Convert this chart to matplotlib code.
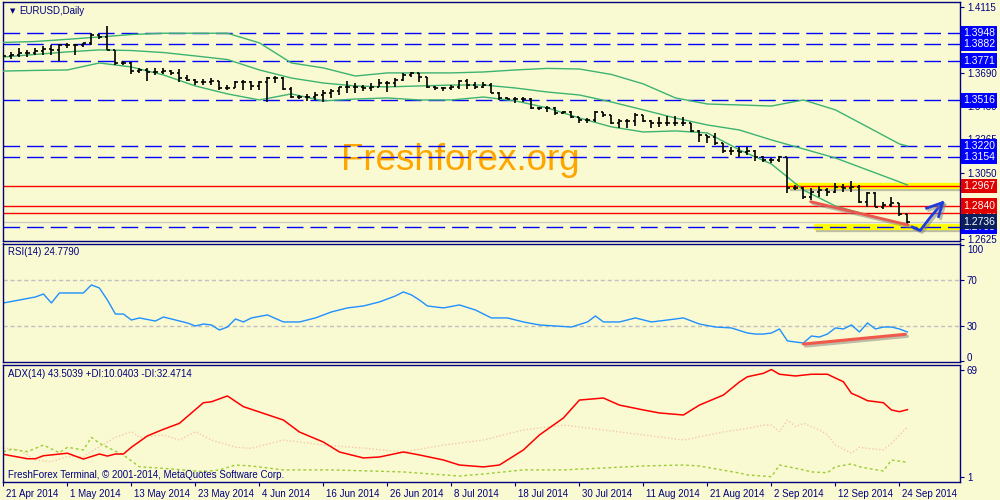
import numpy as np
import matplotlib
matplotlib.use('Agg')
import matplotlib.pyplot as plt
import matplotlib.patheffects as pe
from matplotlib.transforms import ScaledTranslation

# ---- data (EURUSD daily, 21 Apr - 25 Sep 2014) ----
opens = [1.3795, 1.3802, 1.3808, 1.3819, 1.3823, 1.3836, 1.3845, 1.3841, 1.3873, 1.3873,
         1.3870, 1.3883, 1.3937, 1.3926, 1.3841, 1.3759, 1.3759, 1.3708, 1.3712, 1.3701,
         1.3701, 1.3708, 1.3695, 1.3658, 1.3648, 1.3637, 1.3637, 1.3643, 1.3594, 1.3594,
         1.3637, 1.3633, 1.3609, 1.3637, 1.3658, 1.3658, 1.3588, 1.3541, 1.3536, 1.3541,
         1.3551, 1.3566, 1.3579, 1.3601, 1.3605, 1.3605, 1.3599, 1.3605, 1.3631, 1.3626,
         1.3648, 1.3680, 1.3691, 1.3665, 1.3605, 1.3599, 1.3594, 1.3605, 1.3644, 1.3616,
         1.3605, 1.3616, 1.3566, 1.3530, 1.3528, 1.3524, 1.3524, 1.3466, 1.3466, 1.3466,
         1.3434, 1.3444, 1.3408, 1.3391, 1.3391, 1.3444, 1.3423, 1.3369, 1.3386, 1.3386,
         1.3423, 1.3386, 1.3369, 1.3369, 1.3369, 1.3369, 1.3369, 1.3319, 1.3294, 1.3283,
         1.3240, 1.3191, 1.3193, 1.3187, 1.3193, 1.3154, 1.3133, 1.3133, 1.3154, 1.2951,
         1.2951, 1.2897, 1.2929, 1.2940, 1.2929, 1.2962, 1.2951, 1.2962, 1.2865, 1.2919,
         1.2833, 1.2844, 1.2854, 1.2786]
highs = [1.3830, 1.3830, 1.3851, 1.3841, 1.3851, 1.3866, 1.3873, 1.3877, 1.3883, 1.3877,
         1.3888, 1.3948, 1.3941, 1.3995, 1.3841, 1.3772, 1.3766, 1.3723, 1.3727, 1.3723,
         1.3727, 1.3712, 1.3718, 1.3680, 1.3654, 1.3652, 1.3658, 1.3643, 1.3616, 1.3643,
         1.3648, 1.3641, 1.3641, 1.3669, 1.3673, 1.3669, 1.3601, 1.3551, 1.3558, 1.3573,
         1.3584, 1.3588, 1.3605, 1.3644, 1.3626, 1.3616, 1.3626, 1.3652, 1.3644, 1.3659,
         1.3691, 1.3701, 1.3695, 1.3665, 1.3609, 1.3605, 1.3616, 1.3648, 1.3652, 1.3637,
         1.3637, 1.3626, 1.3573, 1.3541, 1.3536, 1.3536, 1.3530, 1.3476, 1.3481, 1.3476,
         1.3451, 1.3451, 1.3408, 1.3401, 1.3451, 1.3444, 1.3423, 1.3395, 1.3395, 1.3434,
         1.3425, 1.3390, 1.3412, 1.3416, 1.3416, 1.3412, 1.3369, 1.3326, 1.3294, 1.3304,
         1.3240, 1.3214, 1.3219, 1.3219, 1.3197, 1.3156, 1.3144, 1.3159, 1.3154, 1.2972,
         1.2962, 1.2951, 1.2966, 1.2951, 1.2983, 1.2979, 1.3000, 1.2972, 1.2929, 1.2929,
         1.2865, 1.2897, 1.2854, 1.2786]
lows = [1.3781, 1.3781, 1.3793, 1.3793, 1.3808, 1.3808, 1.3808, 1.3770, 1.3851, 1.3808,
        1.3862, 1.3873, 1.3909, 1.3841, 1.3744, 1.3744, 1.3686, 1.3695, 1.3643, 1.3680,
        1.3686, 1.3680, 1.3637, 1.3641, 1.3616, 1.3616, 1.3616, 1.3583, 1.3583, 1.3594,
        1.3583, 1.3583, 1.3583, 1.3508, 1.3626, 1.3583, 1.3530, 1.3523, 1.3515, 1.3519,
        1.3509, 1.3530, 1.3551, 1.3562, 1.3562, 1.3579, 1.3579, 1.3605, 1.3573, 1.3605,
        1.3644, 1.3669, 1.3637, 1.3594, 1.3584, 1.3579, 1.3584, 1.3588, 1.3588, 1.3588,
        1.3594, 1.3562, 1.3519, 1.3524, 1.3502, 1.3509, 1.3459, 1.3455, 1.3444, 1.3423,
        1.3429, 1.3401, 1.3374, 1.3374, 1.3380, 1.3412, 1.3365, 1.3337, 1.3337, 1.3352,
        1.3379, 1.3337, 1.3343, 1.3352, 1.3352, 1.3352, 1.3315, 1.3251, 1.3240, 1.3229,
        1.3176, 1.3165, 1.3154, 1.3165, 1.3129, 1.3122, 1.3116, 1.3122, 1.2919, 1.2940,
        1.2880, 1.2876, 1.2893, 1.2902, 1.2923, 1.2929, 1.2929, 1.2854, 1.2833, 1.2829,
        1.2816, 1.2833, 1.2773, 1.2715]
closes = [1.3802, 1.3808, 1.3819, 1.3823, 1.3836, 1.3845, 1.3841, 1.3873, 1.3873, 1.3870,
          1.3883, 1.3937, 1.3926, 1.3841, 1.3759, 1.3759, 1.3708, 1.3712, 1.3701, 1.3701,
          1.3708, 1.3695, 1.3658, 1.3648, 1.3637, 1.3637, 1.3643, 1.3594, 1.3594, 1.3637,
          1.3633, 1.3609, 1.3637, 1.3658, 1.3658, 1.3588, 1.3541, 1.3536, 1.3541, 1.3551,
          1.3566, 1.3579, 1.3601, 1.3605, 1.3605, 1.3599, 1.3605, 1.3631, 1.3626, 1.3648,
          1.3680, 1.3691, 1.3665, 1.3605, 1.3599, 1.3594, 1.3605, 1.3644, 1.3616, 1.3605,
          1.3616, 1.3566, 1.3530, 1.3528, 1.3524, 1.3524, 1.3466, 1.3466, 1.3466, 1.3434,
          1.3444, 1.3408, 1.3391, 1.3391, 1.3444, 1.3423, 1.3369, 1.3386, 1.3386, 1.3423,
          1.3386, 1.3369, 1.3369, 1.3369, 1.3369, 1.3369, 1.3319, 1.3294, 1.3283, 1.3240,
          1.3191, 1.3193, 1.3187, 1.3193, 1.3154, 1.3133, 1.3133, 1.3154, 1.2951, 1.2951,
          1.2897, 1.2929, 1.2940, 1.2929, 1.2962, 1.2951, 1.2962, 1.2865, 1.2919, 1.2833,
          1.2844, 1.2854, 1.2786, 1.2737]

# Bollinger bands (sampled)
bb_idx = [0, 4, 8, 12, 16, 20, 24, 28, 32, 36, 40, 44, 48, 52, 56, 60, 64, 68, 72, 76,
          80, 84, 88, 92, 96, 100, 104, 108, 112, 113]
bb_upper = [1.3889, 1.3895, 1.3909, 1.3924, 1.3940, 1.3948, 1.3948, 1.3948, 1.3886, 1.3757,
            1.3725, 1.3673, 1.3693, 1.3693, 1.3693, 1.3699, 1.3712, 1.3722, 1.3718, 1.3683,
            1.3622, 1.3532, 1.3493, 1.3487, 1.3480, 1.3519, 1.3455, 1.3346, 1.3236, 1.3223]
bb_mid = [1.3795, 1.3812, 1.3828, 1.3841, 1.3837, 1.3824, 1.3802, 1.3779, 1.3712, 1.3660,
          1.3628, 1.3609, 1.3603, 1.3609, 1.3615, 1.3615, 1.3596, 1.3570, 1.3551, 1.3506,
          1.3455, 1.3403, 1.3358, 1.3326, 1.3262, 1.3204, 1.3146, 1.3069, 1.2992, 1.2972]
bb_lower = [1.3705, 1.3709, 1.3712, 1.3757, 1.3731, 1.3680, 1.3609, 1.3558, 1.3519, 1.3558,
            1.3513, 1.3525, 1.3532, 1.3519, 1.3519, 1.3538, 1.3513, 1.3468, 1.3403, 1.3346,
            1.3313, 1.3320, 1.3307, 1.3198, 1.3107, 1.2940, 1.2837, 1.2780, 1.2728, 1.2715]

blue_levels = [1.3948, 1.3882, 1.3771, 1.3516, 1.3220, 1.3154, 1.2705]
red_levels = [1.2967, 1.2840, 1.2790]
last_price = 1.2736
price_ticks = [1.4115, 1.3903, 1.3690, 1.3480, 1.3265, 1.3050, 1.2840, 1.2625]
price_tick_labels = ['1.4115', '', '1.3690', '1.3480', '1.3265', '1.3050', '', '1.2625']
zone_start = [98, 101.3]
zone_price = [1.2967, 1.2705]
trend_x = [100.9, 113.1]
trend_y = [1.2865, 1.2715]
arrow_x = [113.6, 114.6, 115.9, 117.4]
arrow_y = [1.2702, 1.2680, 1.2767, 1.2859]
arrow_head_x = [115.4, 117.4, 116.9]
arrow_head_y = [1.2823, 1.2859, 1.2769]

# RSI(14)
rsi_idx = [0, 2, 4, 5, 6, 7, 9, 10, 11, 12, 13, 14, 15, 16, 17, 19, 20, 21, 23, 24,
           25, 26, 27, 28, 29, 30, 31, 33, 35, 37, 39, 41, 43, 45, 47, 49, 50, 51, 52, 53,
           55, 57, 59, 61, 63, 65, 67, 69, 71, 73, 74, 75, 77, 79, 81, 83, 85, 87, 89, 91,
           93, 94, 95, 96, 97, 98, 99, 100, 101, 102, 103, 104, 105, 106, 107, 108, 109, 110,
           111, 112, 113]
rsi_vals = [50.0, 52.6, 55.2, 57.8, 50.0, 58.7, 58.7, 58.7, 65.7, 63.0, 52.6, 40.4, 40.4,
            35.2, 37.0, 34.3, 37.8, 36.1, 32.6, 30.0, 31.7, 30.9, 26.5, 29.1, 36.1, 33.5,
            37.0, 39.6, 33.5, 33.5, 37.0, 42.2, 45.7, 47.4, 50.9, 56.1, 59.6, 57.0, 52.6,
            47.4, 45.7, 48.3, 43.9, 37.0, 37.0, 33.5, 30.9, 30.0, 29.1, 33.5, 38.7, 33.5,
            33.5, 37.0, 33.5, 35.2, 37.0, 31.7, 29.1, 28.3, 23.9, 23.0, 23.0, 23.9, 27.4,
            17.0, 16.1, 15.2, 21.3, 20.4, 23.0, 28.3, 27.4, 30.9, 24.8, 32.6, 27.4, 29.1,
            29.1, 27.4, 24.8]
rsi_trend_x = [100, 112.75]
rsi_trend_y = [14.3, 22.8]

# ADX(14), +DI, -DI
adx_idx = [0, 3, 4, 5, 8, 10, 12, 13, 14, 15, 16, 18, 20, 22, 25, 26, 28, 30, 32, 35,
           37, 40, 42, 45, 47, 50, 52, 55, 57, 60, 62, 65, 67, 70, 72, 75, 77, 80, 82, 85,
           87, 90, 92, 93, 95, 96, 97, 99, 101, 103, 105, 106, 107, 108, 110, 111, 112, 113]
adx_vals = [15.1, 12.3, 12.3, 14.2, 15.8, 12.1, 15.3, 14.0, 15.3, 15.3, 19.6, 26.8, 31.0,
            34.8, 47.9, 48.5, 52.2, 45.4, 42.0, 36.9, 29.3, 22.9, 16.6, 12.8, 13.4, 16.6,
            14.7, 11.5, 8.3, 7.1, 8.3, 17.9, 27.4, 38.2, 49.6, 50.9, 46.4, 43.3, 41.4, 40.1,
            46.4, 52.8, 61.1, 64.4, 66.6, 69.0, 66.0, 64.9, 66.0, 66.0, 61.2, 53.9, 51.7,
            49.2, 47.9, 43.3, 42.2, 43.5]
pdi_idx = [0, 1, 3, 5, 7, 8, 10, 11, 12, 13, 15, 17, 20, 25, 27, 29, 31, 35, 41, 50,
           57, 60, 65, 70, 75, 80, 85, 87, 92, 93, 96, 97, 100, 101, 103, 104, 106, 107,
           108, 110, 111, 113]
pdi_vals = [16.8, 18.3, 16.8, 21.0, 16.1, 19.6, 17.9, 25.9, 22.1, 19.6, 14.7, 7.2, 6.2,
            4.1, 5.2, 8.3, 7.7, 5.2, 5.2, 3.9, 1.3, 2.6, 5.2, 5.2, 6.4, 7.7, 8.3, 7.7, 3.2,
            2.0, 0.9, 8.3, 5.2, 3.9, 3.4, 7.2, 9.0, 7.2, 6.2, 4.5, 11.5, 10.0]
mdi_idx = [0, 2, 4, 6, 8, 10, 12, 14, 16, 17, 20, 22, 24, 26, 29, 31, 35, 40, 45, 50,
           55, 60, 65, 70, 75, 80, 85, 90, 93, 95, 96, 97, 98, 99, 100, 102, 103, 104,
           106, 107, 108, 110, 111, 113]
mdi_vals = [19.1, 17.9, 11.5, 10.4, 13.6, 13.6, 20.0, 25.9, 29.5, 25.9, 27.4, 24.2, 29.5,
            24.2, 19.6, 18.9, 24.2, 21.0, 19.1, 16.6, 21.0, 24.2, 30.6, 33.7, 30.6, 27.4,
            24.2, 29.3, 31.6, 33.7, 33.7, 29.5, 36.9, 32.7, 34.8, 30.6, 27.4, 21.0, 15.8,
            19.6, 18.9, 17.9, 22.1, 32.5]

date_labels = ['21 Apr 2014', '1 May 2014', '13 May 2014', '23 May 2014', '4 Jun 2014',
               '16 Jun 2014', '26 Jun 2014', '8 Jul 2014', '18 Jul 2014', '30 Jul 2014',
               '11 Aug 2014', '21 Aug 2014', '2 Sep 2014', '12 Sep 2014', '24 Sep 2014']

# ---- styling ----
BG = '#FAFAD2'
NAVY = '#000080'
FONT = 'Liberation Sans'
plt.rcParams['font.family'] = [FONT, 'DejaVu Sans']

fig = plt.figure(figsize=(10, 5), dpi=100, facecolor=BG)
ax1 = fig.add_axes([0.003, 0.518, 0.957, 0.478])
ax2 = fig.add_axes([0.003, 0.276, 0.957, 0.237])
ax3 = fig.add_axes([0.003, 0.0366, 0.957, 0.2344])

XMIN, XMAX = -0.05, 119.57
for ax in (ax1, ax2, ax3):
    ax.set_facecolor(BG)
    ax.set_xlim(XMIN, XMAX)
    for s in ax.spines.values():
        s.set_color(NAVY)
        s.set_linewidth(1.0)
    ax.yaxis.tick_right()
    ax.tick_params(axis='y', colors=NAVY, labelcolor=NAVY, direction='out',
                   length=3, width=0.8, labelsize=7, pad=2)
    ax.tick_params(axis='x', bottom=False, labelbottom=False)

idx = np.arange(len(closes))

# ---- price panel ----
ax1.set_ylim(1.2612, 1.4149)
ax1.set_yticks(price_ticks)
ax1.set_yticklabels(price_tick_labels)

for lv in blue_levels:
    ax1.axhline(lv, color='#0000FF', lw=1.0, dashes=(12, 5), zorder=2)
ax1.axhline(last_price, color='#C8C8C8', lw=0.9, zorder=2)

shadow = [pe.SimpleLineShadow(offset=(1.5, -1.5), shadow_color='#808080', alpha=0.5), pe.Normal()]
for x0, lv in zip(zone_start, zone_price):
    ax1.plot([x0, XMAX], [lv, lv], color='#FFFF00', lw=4.5, solid_capstyle='butt',
             zorder=1.5, path_effects=shadow)
for lv in red_levels:
    ax1.axhline(lv, color='#FF0000', lw=1.0, zorder=2.2)

ax1.plot(bb_idx, bb_upper, color='#3CB371', lw=1.0, zorder=3)
ax1.plot(bb_idx, bb_mid, color='#3CB371', lw=1.0, zorder=3)
ax1.plot(bb_idx, bb_lower, color='#3CB371', lw=1.0, zorder=3)

ax1.vlines(idx, lows, highs, color='black', lw=1.2, zorder=4)
ax1.hlines(opens, idx - 0.36, idx, color='black', lw=1.2, zorder=4)
ax1.hlines(closes, idx, idx + 0.36, color='black', lw=1.2, zorder=4)

ax1.plot(trend_x, trend_y, color='#E8584C', lw=2.0, solid_capstyle='round',
         zorder=5, path_effects=shadow)
ax1.plot(arrow_x, arrow_y, color='#1E3CDC', lw=2.0, solid_joinstyle='round',
         zorder=6, path_effects=shadow)
ax1.plot(arrow_head_x, arrow_head_y, color='#1E3CDC', lw=2.0, solid_joinstyle='round',
         zorder=6, path_effects=shadow)

ax1.text(0.478, 0.335, 'Freshforex.org', transform=ax1.transAxes, ha='center', va='center',
         color='#FFA500', fontsize=26.5, family=FONT, zorder=1)

# price boxes on the right axis
ytr = ax1.get_yaxis_transform()
def price_box(v, fc, z):
    ax1.text(1.003, v, '%.4f' % v, transform=ytr, ha='left', va='center', color='white',
             fontsize=7.5, clip_on=False, zorder=z,
             bbox=dict(boxstyle='square,pad=0.22', fc=fc, ec='none'))

price_box(1.2705, '#0000FF', 7)
price_box(1.2790, '#E00000', 7)
for lv in blue_levels[:-1]:
    price_box(lv, '#0000FF', 8)
price_box(1.2967, '#E00000', 8)
price_box(1.2840, '#E00000', 8)
price_box(last_price, '#0A1F5C', 9)

# ---- RSI panel ----
ax2.set_ylim(-1.3, 101.7)
ax2.set_yticks([100, 70, 30, 0])
ax2.set_yticklabels(['100', '70', '30', '0'])
for lv in (70, 30):
    ax2.axhline(lv, color='#C0C0C0', lw=1.0, dashes=(3, 2))
ax2.plot(rsi_idx, rsi_vals, color='#1E90FF', lw=1.0)
ax2.plot(rsi_trend_x, rsi_trend_y, color='#F05A4A', lw=2.2, solid_capstyle='round',
         path_effects=shadow)
# terminal draws the 100 / 0 captions just inside the window
rl = ax2.get_yticklabels()
rl[0].set_transform(rl[0].get_transform() + ScaledTranslation(0, -4 / 100, fig.dpi_scale_trans))
rl[3].set_transform(rl[3].get_transform() + ScaledTranslation(0, 4 / 100, fig.dpi_scale_trans))

# ---- ADX panel ----
ax3.set_ylim(-2.3, 72.2)
ax3.set_yticks([69, 1])
ax3.set_yticklabels(['69', '1'])
ax3.plot(mdi_idx, mdi_vals, color='#F5C9A6', lw=1.0, dashes=(1, 1.5))
ax3.plot(pdi_idx, pdi_vals, color='#9ACD32', lw=1.0, dashes=(2, 2))
ax3.plot(adx_idx, adx_vals, color='#FF0000', lw=1.1)

ax3.tick_params(axis='x', bottom=True, labelbottom=True, colors=NAVY, labelcolor=NAVY,
                direction='out', length=3, width=0.8, labelsize=7, pad=2)
ax3.set_xticks(np.arange(0, 8 * len(date_labels), 8))
ax3.set_xticklabels(date_labels)
off = ScaledTranslation(3 / 100, 0, fig.dpi_scale_trans)
for lbl in ax3.get_xticklabels():
    lbl.set_horizontalalignment('left')
    lbl.set_transform(lbl.get_transform() + off)

# ---- captions ----
fig.text(0.010, 1 - 11 / 500, '\u25BC', color=NAVY, fontsize=5, va='center',
         family='DejaVu Sans')
fig.text(0.019, 1 - 11 / 500, 'EURUSD,Daily', color=NAVY, fontsize=7, va='center')
fig.text(0.008, 1 - 252 / 500, 'RSI(14) 24.7790', color=NAVY, fontsize=7, va='center')
fig.text(0.008, 1 - 374 / 500, 'ADX(14) 43.5039 +DI:10.0403 -DI:32.4714', color=NAVY,
         fontsize=7, va='center')
fig.text(0.008, 1 - 475 / 500, 'FreshForex Terminal, \u00A9 2001-2014, MetaQuotes Software Corp.',
         color=NAVY, fontsize=7, va='center')

fig.savefig('out.png', dpi=100, facecolor=BG)
